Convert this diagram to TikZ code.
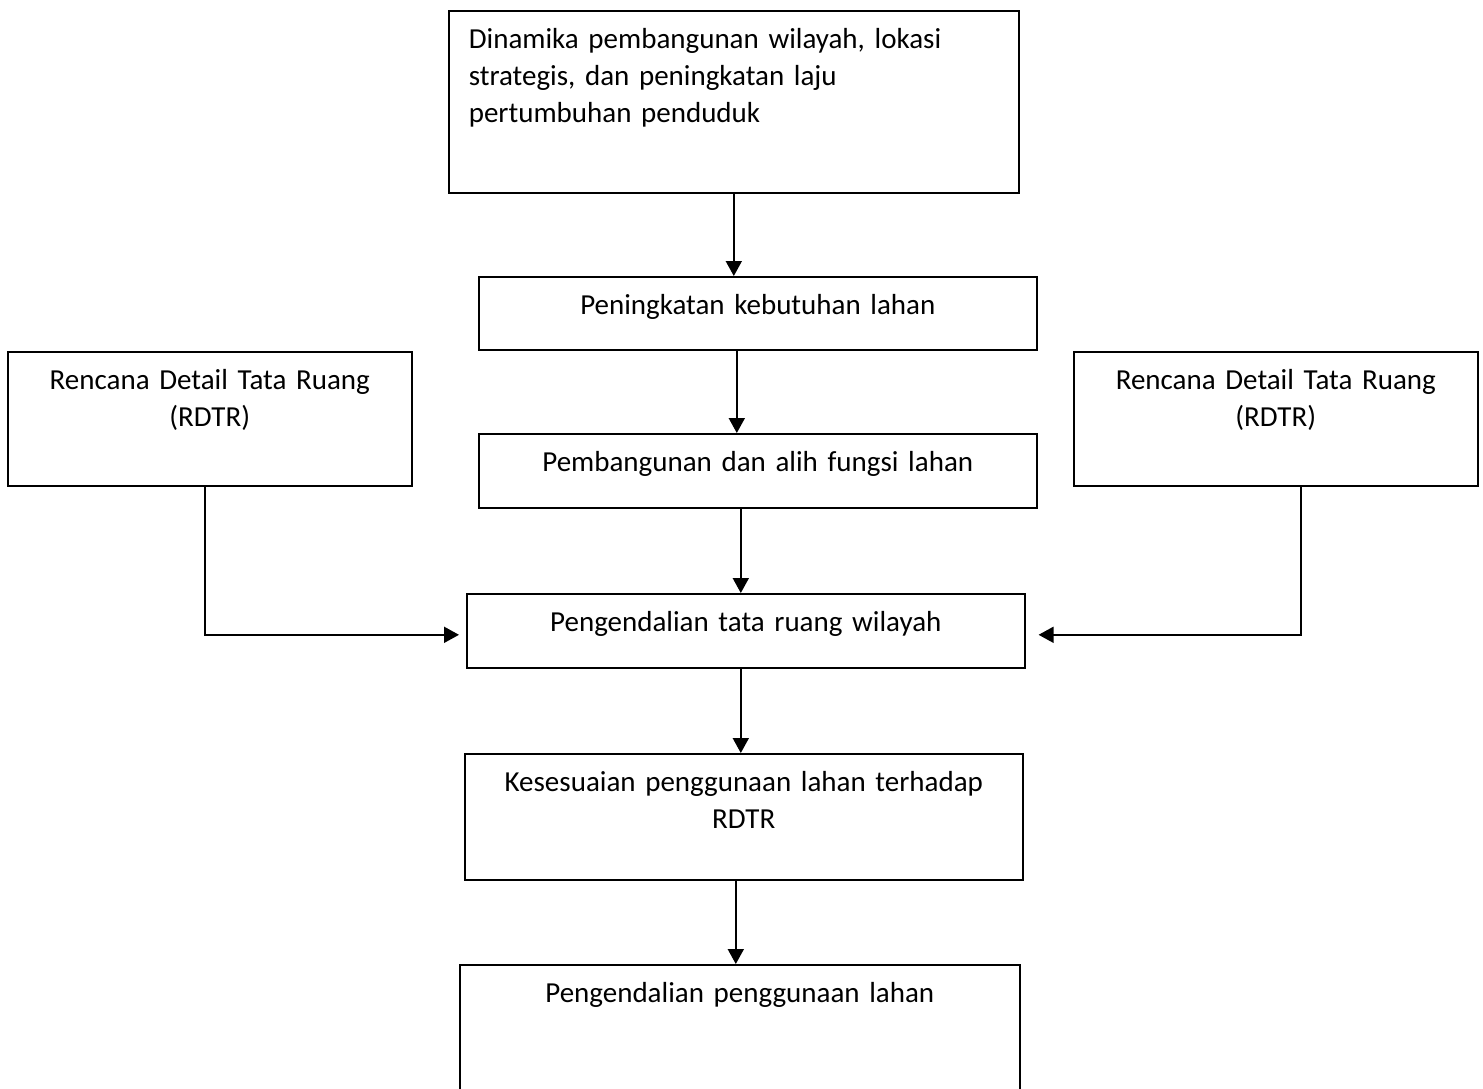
\documentclass[tikz,border=0pt]{standalone}
\usepackage{fontspec}
\setmainfont{Carlito}
\usetikzlibrary{arrows.meta,positioning}

\begin{document}
\begin{tikzpicture}[x=0.5pt,y=-0.5pt]
		\tikzstyle{kotak}=[draw,line width=0.8pt,anchor=north west,inner sep=0pt,text height=19pt,align=center,font=\fontsize{14.5}{18.5}\selectfont]
		\tikzstyle{panah}=[line width=0.9pt,arrows={-Triangle[length=7.5pt,width=8pt]}]
		
		\clip (0,0) rectangle (1483,1088);
		
		\node[kotak, align=left, inner xsep=10pt, text width=265pt, text depth=72pt] (dinamika) at (448,10) {Dinamika pembangunan wilayah, lokasi\\strategis, dan peningkatan laju\\pertumbuhan penduduk};
		\node[kotak, text width=279pt, text depth=17.5pt] (kebutuhan) at (478,276) {Peningkatan kebutuhan lahan};
		\node[kotak, text width=279pt, text depth=18pt] (alihfungsi) at (478,433) {Pembangunan dan alih fungsi lahan};
		
		\node[kotak, text width=202pt, text depth=48pt] (rdtrkiri) at (7,351) {Rencana Detail Tata Ruang\\(RDTR)};
		\node[kotak, text width=202pt, text depth=48pt] (rdtrkanan) at (1073,351) {Rencana Detail Tata Ruang\\(RDTR)};
		
		\node[kotak, text width=279pt, text depth=18pt] (pengendalian) at (466,593) {Pengendalian tata ruang wilayah};
		\node[kotak, text width=279pt, text depth=44pt] (kesesuaian) at (464,753) {Kesesuaian penggunaan lahan terhadap\\RDTR};
		\node[kotak, text width=280pt, text depth=51pt] (penggunaan) at (459,964) {Pengendalian penggunaan lahan};
		
		\draw [panah] (dinamika.south) -- (kebutuhan.north -| dinamika.south);
		\draw [panah] ([xshift=-10.5pt]kebutuhan.south) -- ([xshift=-10.5pt]alihfungsi.north);
		\draw [panah] ([xshift=-8.5pt]alihfungsi.south) -- ([xshift=-2.5pt]pengendalian.north);
		\draw [panah] ([xshift=-2.5pt]pengendalian.south) -- ([xshift=-1.5pt]kesesuaian.north);
		\draw [panah] ([xshift=-4pt]kesesuaian.south) -- ([xshift=-2pt]penggunaan.north);
		
		\draw [panah, shorten >=3.5pt] ([xshift=-2.5pt]rdtrkiri.south) |- ([yshift=-2pt]pengendalian.west);
		\draw [panah, shorten >=6.5pt] ([xshift=12.5pt]rdtrkanan.south) |- ([yshift=-2pt]pengendalian.east);
		\end{tikzpicture}
\end{document}
